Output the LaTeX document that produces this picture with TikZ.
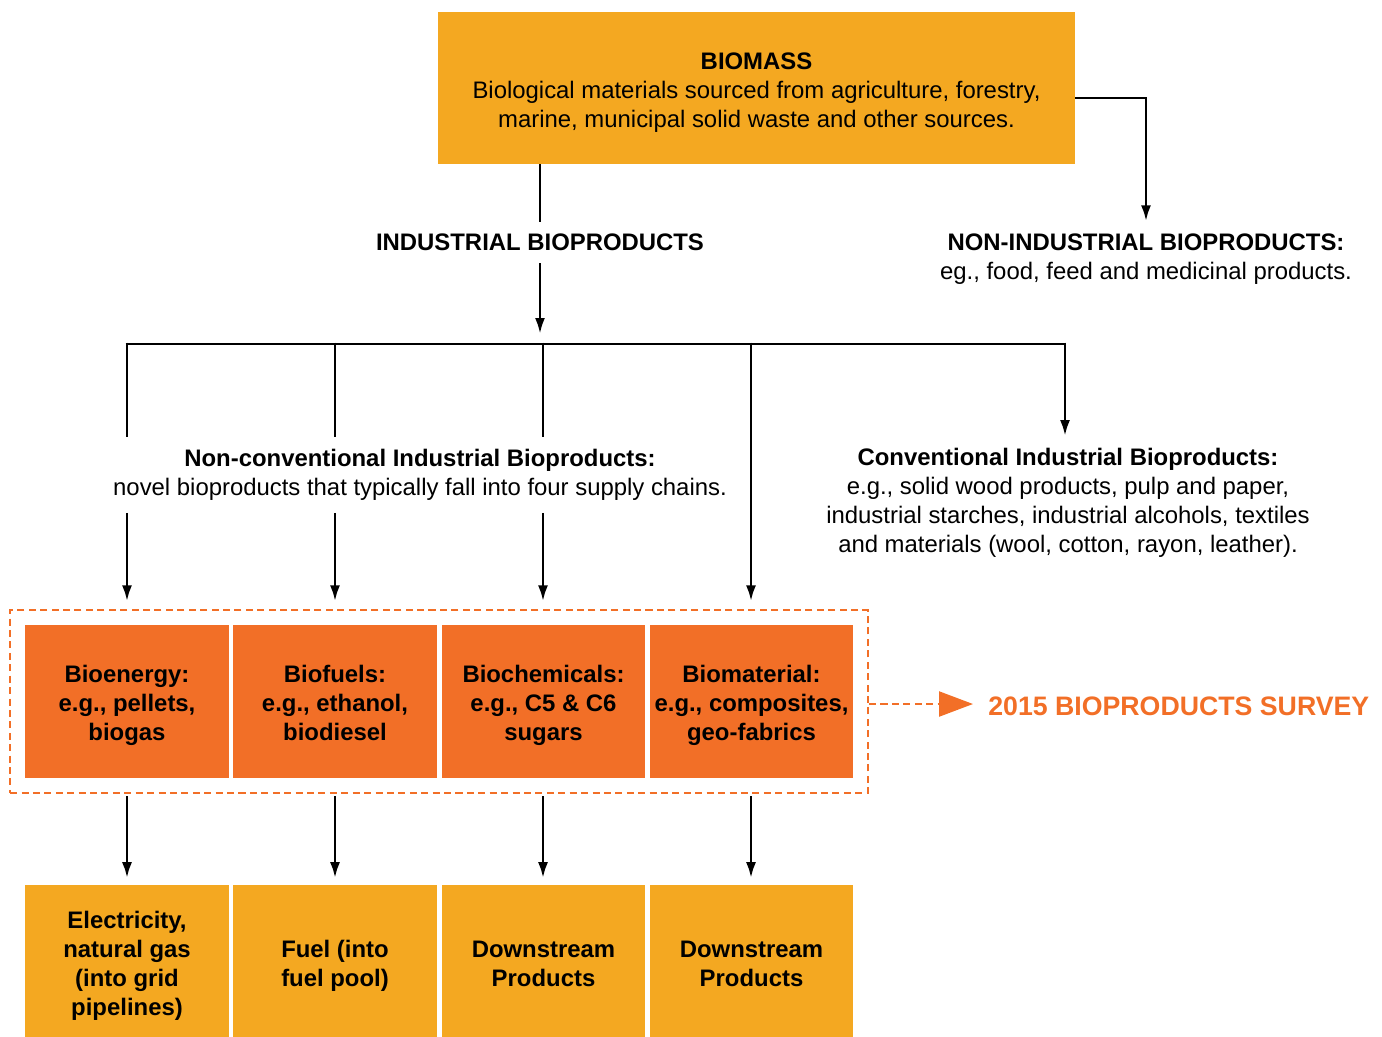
\documentclass[tikz,border=0pt]{standalone}
\usepackage{fontspec}
\setmainfont{Liberation Sans}
\usepackage{tikz}
\usetikzlibrary{arrows.meta}
\definecolor{biomass}{HTML}{F4A821}
\definecolor{supply}{HTML}{F26F27}
\newcommand{\topgap}{\rule{0pt}{15pt}}
\newcommand{\botgap}{\rule[-3.6pt]{0pt}{0pt}}

\begin{document}
\begin{tikzpicture}[x=0.02cm,y=-0.02cm]
		\tikzstyle{box}=[inner sep=0pt,align=center,font=\fontsize{13.6}{16.5}\selectfont]
		\tikzstyle{yellow-box}=[box,fill=biomass,minimum width=4.08cm,minimum height=3.1cm,font=\bfseries\fontsize{13.6}{16.5}\selectfont]
		\tikzstyle{orange-box}=[box,fill=supply,minimum width=4.08cm,minimum height=3.06cm,font=\bfseries\fontsize{13.6}{16.5}\selectfont]
		\tikzstyle{tag}=[align=center,inner xsep=2pt,inner ysep=0.24cm,font=\fontsize{13.6}{16.5}\selectfont]
		\tikzstyle{link}=[line width=1.6pt]
		\tikzstyle{mapsto}=[line width=1.6pt,-{Latex[length=3.2mm,width=2mm]}]
		\tikzstyle{survey-line}=[color=supply,line width=1.3pt,dash pattern=on 4pt off 2.5pt]
		\useasboundingbox (0,0) rectangle (1382,1036);
		% biomass
		\node [box,fill=biomass,minimum width=12.74cm,minimum height=3.04cm] at (756.5,88) (biomass) {\topgap\textbf{BIOMASS}\\Biological materials sourced from agriculture, forestry,\\marine, municipal solid waste and other sources.\botgap};
		\node [tag] at (540,242.5) (ind) {\textbf{INDUSTRIAL BIOPRODUCTS}};
		\node [tag] at (1146,259) (nonind) {\textbf{NON-INDUSTRIAL BIOPRODUCTS:}\\eg., food, feed and medicinal products.};
		\draw [link] (biomass.south -| ind) -- (ind);
		\draw [mapsto] ([yshift=-0.2cm]biomass.east) -| (nonind.north);
		% branches
		\coordinate (b1) at (127,344);
		\coordinate (b2) at (335,344);
		\coordinate (b3) at (543,344);
		\coordinate (b4) at (751,344);
		\coordinate (b5) at (1065,344);
		\draw [mapsto] (ind) -- ([yshift=0.2cm]b3 -| ind);
		\draw [link] ([xshift=-0.8pt]b1) -- ([xshift=0.8pt]b5);
		\node [tag] at (420,475) (noncon) {\textbf{Non-conventional Industrial Bioproducts:}\\novel bioproducts that typically fall into four supply chains.};
		\node [tag] at (1068,503) (conv) {\textbf{Conventional Industrial Bioproducts:}\\e.g., solid wood products, pulp and paper,\\industrial starches, industrial alcohols, textiles\\and materials (wool, cotton, rayon, leather).};
		\draw [mapsto] ([yshift=0.8pt]b5) -- (b5 |- conv.north);
		% supply chains
		\node [draw=supply,survey-line,minimum width=17.16cm,minimum height=3.66cm] at (439,701.5) (survey) {};
		\node [orange-box] at (127,701.5) (s1) {\topgap Bioenergy:\\e.g., pellets,\\biogas\botgap};
		\node [orange-box] at (335,701.5) (s2) {\topgap Biofuels:\\e.g., ethanol,\\biodiesel\botgap};
		\node [orange-box] at (543.5,701.5) (s3) {\topgap Biochemicals:\\e.g., C5 \& C6\\sugars\botgap};
		\node [orange-box] at (751.5,701.5) (s4) {\topgap Biomaterial:\\e.g., composites,\\geo-fabrics\botgap};
		\foreach \b in {b1,b2,b3} {
			\draw [link] ([yshift=0.8pt]\b) -- (\b |- noncon.north);
			\draw [mapsto,shorten >=0.15cm] (\b |- noncon.south) -- (\b |- survey.north);
		}
		\draw [mapsto,shorten >=0.15cm] ([yshift=0.8pt]b4) -- (b4 |- survey.north);
		% survey
		\node [anchor=west,color=supply,inner sep=0pt,font=\bfseries\fontsize{15.2}{18}\selectfont] at (988,706) (label) {2015 BIOPRODUCTS SURVEY};
		\draw [survey-line,-{Triangle[length=6.8mm,width=5mm]},shorten >=0.3cm] ([yshift=-0.05cm]survey.east) -- ([yshift=-0.05cm]survey.east -| label.west);
		% end products
		\node [yellow-box] at (127,962) (p1) {\topgap Electricity,\\natural gas\\(into grid\\pipelines)\botgap};
		\node [yellow-box] at (335,962) (p2) {\topgap Fuel (into\\fuel pool)\botgap};
		\node [yellow-box] at (543.5,962) (p3) {\topgap Downstream\\Products\botgap};
		\node [yellow-box] at (751.5,962) (p4) {\topgap Downstream\\Products\botgap};
		\foreach \b/\p in {b1/p1,b2/p2,b3/p3,b4/p4}
			\draw [mapsto,shorten <=0.04cm,shorten >=0.12cm] (\b |- survey.south) -- (\b |- \p.north);
	\end{tikzpicture}
\end{document}
